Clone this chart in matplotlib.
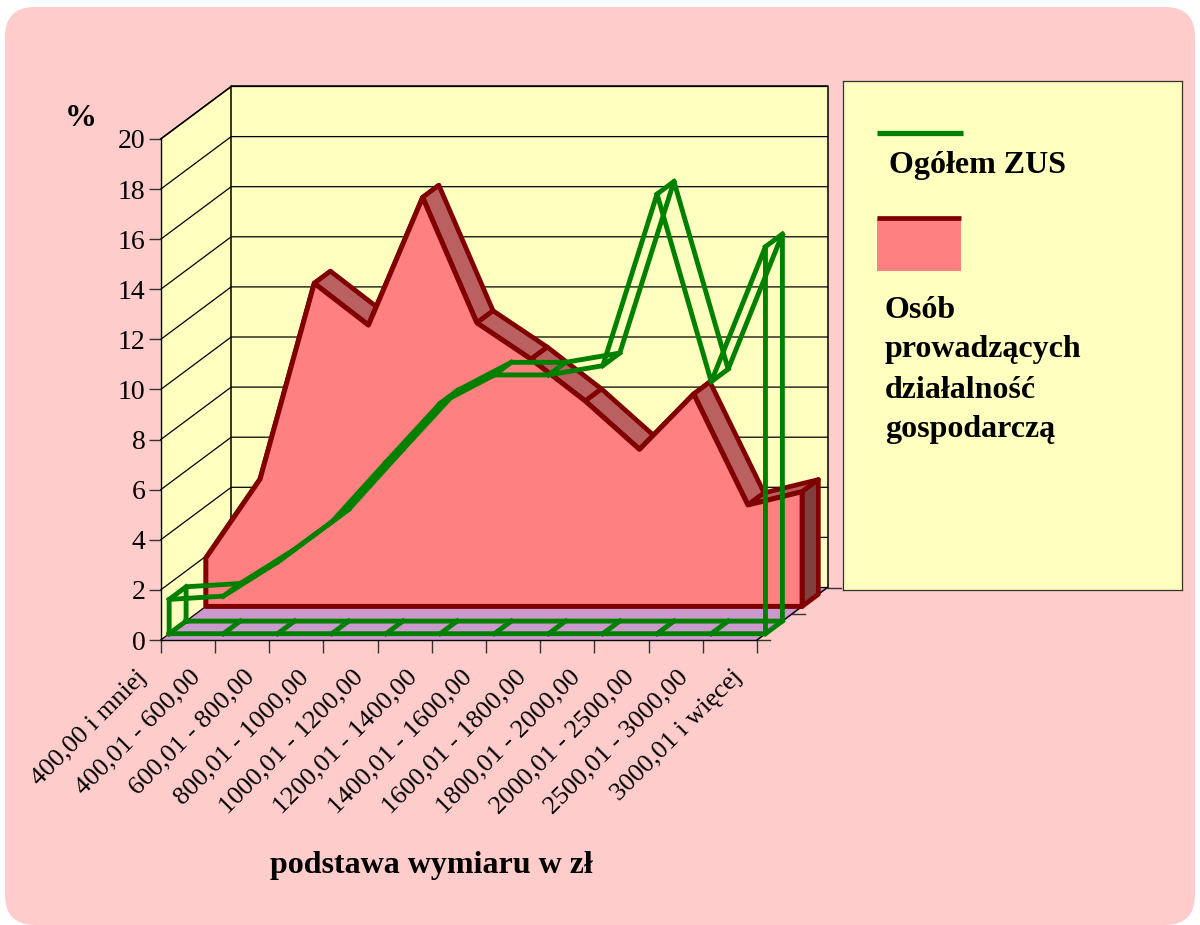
import numpy as np
import matplotlib
matplotlib.use("Agg")
import matplotlib.pyplot as plt
from matplotlib.patches import FancyBboxPatch, Rectangle
from matplotlib.transforms import IdentityTransform, ScaledTranslation

categories = ["400,00 i mniej", "400,01 - 600,00", "600,01 - 800,00",
              "800,01 - 1000,00", "1000,01 - 1200,00", "1200,01 - 1400,00",
              "1400,01 - 1600,00", "1600,01 - 1800,00", "1800,01 - 2000,00",
              "2000,01 - 2500,00", "2500,01 - 3000,00", "3000,01 i więcej"]
ogolem_zus = [1.37, 1.5, 2.86, 4.46, 6.85, 9.2, 10.33, 10.33, 10.7, 17.55, 10.06, 15.45]
dzialalnosc = [1.93, 5.08, 12.9, 11.23, 16.33, 11.32, 9.87, 8.2, 6.27, 8.48, 4.05, 4.58]
y_ticks = list(range(0, 21, 2))
legend_name_green = "Ogółem ZUS"
legend_lines_red = ["Osób", "prowadzących", "działalność", "gospodarczą"]

plt.rcParams["font.family"] = ["Liberation Serif", "DejaVu Serif"]

BG = "#FFCCCC"
WALL = "#FFFFC0"
FLOOR = "#CC99CC"
RED_FILL = "#FF8080"
RED_LINE = "#800000"
RED_TOP = "#BB6060"
RED_END = "#804040"
GREEN = "#008000"

W, H = 1200, 925
# front plane of the box in pixels
LEFT, RIGHT, BOTTOM, TOP = 160.7, 757.0, 640.0, 139.0
# depth of the box, in data units
DX = 70.5 / ((RIGHT - LEFT) / 11)
DY = 52.5 / ((BOTTOM - TOP) / 20)


def proj(x, y, d):
    return np.asarray(x, dtype=float) + d * DX, np.asarray(y, dtype=float) + d * DY


def quad(ax, x0, y0, d0, x1, y1, d1, **kw):
    # face between front edge at depth d0 and back edge at depth d1
    xa, ya = proj([x0, x1], [y0, y1], d0)
    xb, yb = proj([x1, x0], [y1, y0], d1)
    ax.fill(np.r_[xa, xb], np.r_[ya, yb], clip_on=False, **kw)


fig = plt.figure(figsize=(W / 100, H / 100), dpi=100, facecolor="white")
bg = FancyBboxPatch((35, 30), W - 70, H - 67, boxstyle="round,pad=30,rounding_size=30",
                    transform=IdentityTransform(), facecolor=BG, edgecolor="none", zorder=-1)
fig.add_artist(bg)

ax = fig.add_axes([LEFT / W, 1 - BOTTOM / H, (RIGHT - LEFT) / W, (BOTTOM - TOP) / H])
ax.patch.set_visible(False)
ax.set_xlim(0, 11)
ax.set_ylim(0, 20)
for s in ["top", "right"]:
    ax.spines[s].set_visible(False)
for s in ["left", "bottom"]:
    ax.spines[s].set_linewidth(1.0)
    ax.spines[s].set_zorder(2)

ax.set_yticks(y_ticks)
ax.set_xticks(range(len(categories)))
ax.set_xticklabels(categories, rotation=45, ha="right", va="top", rotation_mode="anchor")
ax.tick_params(axis="y", length=9, width=1, labelsize=20, pad=2, color="#333333")
ax.tick_params(axis="x", length=9, width=1, labelsize=19, pad=4, color="#333333")
# labels end left of their ticks in the original
shift = ScaledTranslation(-25.5 / 100, -8 / 100, fig.dpi_scale_trans)
for lab in ax.get_xticklabels():
    lab.set_transform(lab.get_transform() + shift)

# walls and floor
n = len(categories) - 1
bx, by = proj([0, n, n, 0], [0, 0, 20, 20], 1)
ax.fill(bx, by, color=WALL, lw=0, clip_on=False, zorder=1)
quad(ax, 0, 0, 0, 0, 20, 1, facecolor=WALL, edgecolor="none", zorder=1)
quad(ax, 0, 0, 0, n, 0, 1, facecolor=FLOOR, edgecolor="none", zorder=1)

for v in y_ticks:
    sx, sy = proj([0, 0, n], [v, v, v], np.array([0, 1, 1]))
    ax.plot(sx, sy, color="black", lw=0.9, clip_on=False, zorder=1.5)
sx, sy = proj([0, 0, n, n], [0, 20, 20, 0], 1)
ax.plot(sx, sy, color="black", lw=1.1, clip_on=False, zorder=1.6)
sx, sy = proj([0, 0], [20, 20], np.array([0, 1]))
ax.plot(sx, sy, color="black", lw=1.1, clip_on=False, zorder=1.6)
sx, sy = proj([n, n], [0, 0], np.array([0, 1]))
ax.plot(sx, sy, color="black", lw=1.1, clip_on=False, zorder=1.6)

# small ticks along the depth axis
tick_len = 13 / ((RIGHT - LEFT) / 11)
for d in [0, 0.5, 1]:
    sx, sy = proj([n, n + tick_len], [0, 0], d)
    ax.plot(sx, sy, color="#333333", lw=1, clip_on=False, zorder=1.6)

xs = np.arange(len(categories))

# red series: ribbon behind, front face on top
RED_D0, RED_D1 = 0.64, 0.87
red = np.array(dzialalnosc)
for i in range(n):
    quad(ax, xs[i], red[i], RED_D0, xs[i + 1], red[i + 1], RED_D1, facecolor=RED_TOP,
         edgecolor=RED_LINE, lw=3.4, joinstyle="round", zorder=3)
# end cap on the right
cx0, cy0 = proj([n, n], [0, red[n]], RED_D0)
cx1, cy1 = proj([n, n], [red[n], 0], RED_D1)
ax.fill(np.r_[cx0, cx1], np.r_[cy0, cy1], facecolor=RED_END, edgecolor=RED_LINE, lw=3.4,
        joinstyle="round", clip_on=False, zorder=3.1)
fx, fy = proj(np.r_[0, xs, n], np.r_[0, red, 0], RED_D0)
ax.fill(fx, fy, facecolor=RED_FILL, edgecolor=RED_LINE, lw=3.6, joinstyle="round",
        clip_on=False, zorder=3.2)

# green series: outline only
GR_D0, GR_D1 = 0.12, 0.36
green = np.array(ogolem_zus)
for d in [GR_D1, GR_D0]:
    gx, gy = proj(np.r_[0, xs, n, 0], np.r_[0, green, 0, 0], d)
    ax.plot(gx, gy, color=GREEN, lw=3.5, solid_joinstyle="round", clip_on=False, zorder=5)
for i in xs:
    for v in [0, green[i]]:
        gx, gy = proj([i, i], [v, v], np.array([GR_D0, GR_D1]))
        ax.plot(gx, gy, color=GREEN, lw=3.5, clip_on=False, zorder=5)

# axis titles, placed in pixels
fig.text(81 / W, 1 - 118 / H, "%", fontsize=23, fontweight="bold", ha="center", va="center")
fig.text(431 / W, 1 - 865 / H, "podstawa wymiaru w zł", fontsize=23, fontweight="bold",
         ha="center", va="center")

# legend box
lg = fig.add_axes([843 / W, 1 - 590 / H, 339 / W, 509 / H])
lg.set_facecolor(WALL)
lg.set_xlim(843, 1182)
lg.set_ylim(590, 81)
lg.set_xticks([])
lg.set_yticks([])
for s in lg.spines.values():
    s.set_linewidth(0.9)
    s.set_color("#333333")
lg.plot([877, 963], [133, 133], color=GREEN, lw=3.8, solid_capstyle="butt")
lg.add_patch(Rectangle((877, 218), 84, 53, facecolor=RED_FILL, edgecolor="none"))
lg.plot([877, 961], [218, 218], color=RED_LINE, lw=3.4, solid_capstyle="butt")
lg.text(889, 165, legend_name_green, fontsize=23, fontweight="bold", va="center", ha="left")
for line, yy in zip(legend_lines_red, [310, 349, 390, 430]):
    lg.text(885, yy, line, fontsize=23, fontweight="bold", va="center", ha="left")

fig.savefig("out.png", dpi=100)
